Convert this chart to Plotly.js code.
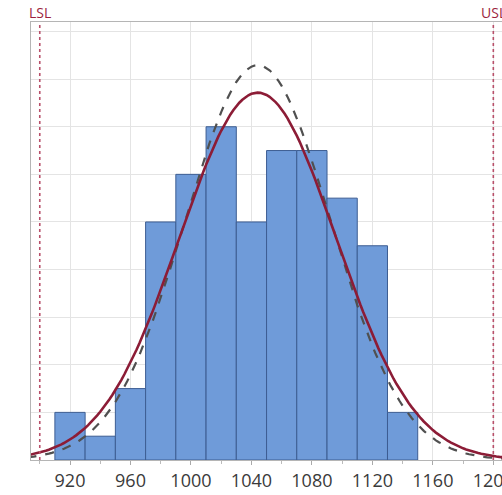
<!DOCTYPE html>
<html>
<head>
<meta charset="utf-8">
<script src="https://cdn.plot.ly/plotly-3.0.1.min.js"></script>
<style>
html,body{margin:0;padding:0;overflow:hidden;background:#fff;width:502px;height:495px;}
#chart{width:526px;height:495px;}
</style>
</head>
<body>
<div id="chart"></div>
<script>
// Histogram data (bin centres, width 20)
const binCenters = [920, 940, 960, 980, 1000, 1020, 1040, 1060, 1080, 1100, 1120, 1140];
const binCounts  = [2, 1, 3, 10, 12, 14, 10, 13, 13, 11, 9, 2];
const binWidth = 20;
// Fitted normal parameters
const fitMean = 1044.2;
const sigmaOverall = 51.7;
const sigmaWithin = 48.1;
// Spec limits
const LSL = 900;
const USL = 1200;
const tickLabels = [920, 960, 1000, 1040, 1080, 1120, 1160, 1200];

const N = binCounts.reduce((a, b) => a + b, 0);
function curve(sigma) {
  const xs = [], ys = [];
  for (let x = 880; x <= 1230; x += 2) {
    xs.push(x);
    const z = (x - fitMean) / sigma;
    ys.push(N * binWidth / (sigma * Math.sqrt(2 * Math.PI)) * Math.exp(-0.5 * z * z));
  }
  return {xs, ys};
}
const cO = curve(sigmaOverall);
const cW = curve(sigmaWithin);

const traces = [
  {type: 'bar', x: binCenters, y: binCounts, width: binWidth,
   marker: {color: '#6f9bd9', line: {color: '#3d5d92', width: 1}}, hoverinfo: 'x+y'},
  {type: 'scatter', mode: 'lines', x: cW.xs, y: cW.ys,
   line: {color: '#505050', width: 2.2, dash: 'dash'}},
  {type: 'scatter', mode: 'lines', x: cO.xs, y: cO.ys,
   line: {color: '#8c1c36', width: 2.6}}
];

const layout = {
  width: 526, height: 495,
  margin: {l: 31, r: 10, t: 22, b: 35},
  paper_bgcolor: '#fff', plot_bgcolor: '#fff',
  showlegend: false, bargap: 0,
  font: {family: 'Open Sans, sans-serif', color: '#333'},
  xaxis: {
    range: [894.2, 1215], tickvals: tickLabels, ticktext: tickLabels.map(String),
    ticks: 'outside', ticklen: 4, tickcolor: '#aaa',
    minor: {dtick: 20, tick0: 900, ticks: 'outside', ticklen: 3, tickcolor: '#bbb', showgrid: false},
    showgrid: true, gridcolor: '#e4e4e4', gridwidth: 1,
    showline: true, linecolor: '#b5b5b5', mirror: true, zeroline: false,
    tickfont: {size: 18, color: '#3a3a3a'}
  },
  yaxis: {
    range: [0, 18.4], dtick: 2, showticklabels: false, ticks: '',
    showgrid: true, gridcolor: '#e4e4e4', gridwidth: 1,
    showline: true, linecolor: '#b5b5b5', mirror: true, zeroline: false
  },
  shapes: [
    {type: 'line', xref: 'x', yref: 'paper', x0: LSL, x1: LSL, y0: 0, y1: 1,
     line: {color: '#b8506a', width: 1.6, dash: 'dot'}},
    {type: 'line', xref: 'x', yref: 'paper', x0: USL, x1: USL, y0: 0, y1: 1,
     line: {color: '#b8506a', width: 1.6, dash: 'dot'}}
  ],
  annotations: [
    {x: LSL, y: 1, xref: 'x', yref: 'paper', yanchor: 'bottom', yshift: -2, text: 'LSL',
     showarrow: false, font: {size: 14, color: '#9c1f3e'}},
    {x: USL, y: 1, xref: 'x', yref: 'paper', yanchor: 'bottom', yshift: -2, text: 'USL',
     showarrow: false, font: {size: 14, color: '#9c1f3e'}}
  ]
};

Plotly.newPlot('chart', traces, layout, {displayModeBar: false, staticPlot: true});
</script>
</body>
</html>
